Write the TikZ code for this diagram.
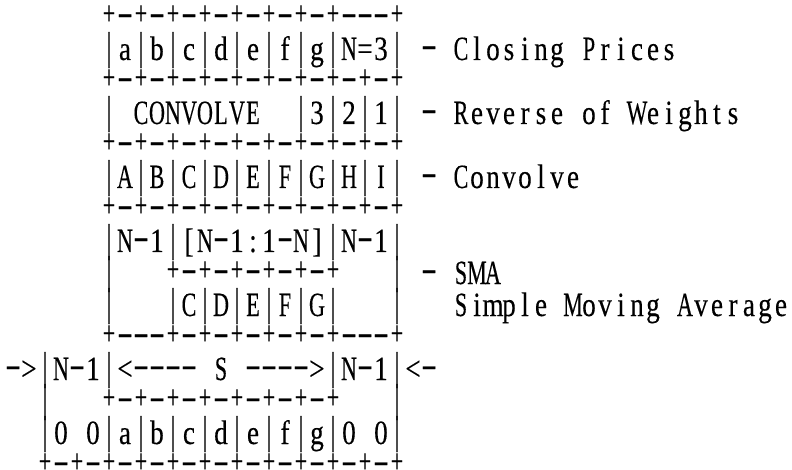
\documentclass[tikz,border=0pt]{standalone}
\usepackage{fontspec}
\newfontfamily\letterfont[FakeStretch=0.8,FakeBold=0.25]{Liberation Serif}
\newfontfamily\capfont[FakeStretch=0.65,FakeBold=0.25]{Liberation Serif}
\newfontfamily\plainfont[FakeBold=0.25]{Liberation Serif}
\makeatletter
\def\cells#1{\cells@#1\relax}
\def\cells@#1{\ifx\relax#1\else\cellbox{#1}\expandafter\cells@\fi}
\makeatother
\newcommand\cellbox[1]{\hbox to 16pt{\hss\cellglyph{#1}\hss}}
\newcommand\dashglyph{\raisebox{\dimexpr13.5pt-\height\relax}{\scalebox{1.4}[1]{\plainfont-}}}
\newcommand\plusglyph{\raisebox{\dimexpr13pt-0.5\height\relax}{{\capfont+}}}
\newcommand\barglyph{\raisebox{\dimexpr28pt-\height\relax}{\resizebox*{\width}{36pt}{|}}}
\newcommand\cellglyph[1]{\ifx-#1\dashglyph\else
  \ifx+#1\plusglyph\else
  \ifx|#1\barglyph\else
  \ifnum`#1>64 \ifnum`#1<91 {\capfont#1}\else#1\fi\else#1\fi\fi\fi\fi}
\newcommand\asciistyle{\letterfont\fontsize{34pt}{34pt}\selectfont}
\tikzset{
  asciirow/.style={anchor=base west, inner sep=0pt, outer sep=0pt, text=black,
    font=\asciistyle}
}
\begin{document}
\begin{tikzpicture}[x=1pt,y=1pt]
\useasboundingbox (0,0) rectangle (792,-470);
\clip (0,0) rectangle (792,-470);
\node[asciirow] (r1)  at (101,-28)  {\cells{+-+-+-+-+-+-+-+---+}};
\node[asciirow] (r2)  at (101,-60)  {\cells{|a|b|c|d|e|f|g|N=3|~-~Closing~Prices}};
\node[asciirow] (r3)  at (101,-92)  {\cells{+-+-+-+-+-+-+-+-+-+}};
\node[asciirow] (r4)  at (101,-124) {\cells{|~CONVOLVE~~|3|2|1|~-~Reverse~of~Weights}};
\node[asciirow] (r5)  at (101,-156) {\cells{+-+-+-+-+-+-+-+-+-+}};
\node[asciirow] (r6)  at (101,-188) {\cells{|A|B|C|D|E|F|G|H|I|~-~Convolve}};
\node[asciirow] (r7)  at (101,-220) {\cells{+-+-+-+-+-+-+-+-+-+}};
\node[asciirow] (r8)  at (101,-252) {\cells{|N-1|[N-1:1-N]|N-1|}};
\node[asciirow] (r9)  at (101,-284) {\cells{|~~~+-+-+-+-+-+~~~|~-~SMA}};
\node[asciirow] (r10) at (101,-316) {\cells{|~~~|C|D|E|F|G|~~~|~~~Simple~Moving~Average}};
\node[asciirow] (r11) at (101,-348) {\cells{+---+-+-+-+-+-+---+}};
\node[asciirow] (r12) at (5,-380)   {\cells{->|N-1|<----~S~---->|N-1|<-}};
\node[asciirow] (r13) at (37,-412)  {\cells{|~~~+-+-+-+-+-+-+-+~~~|}};
\node[asciirow] (r14) at (37,-444)  {\cells{|0~0|a|b|c|d|e|f|g|0~0|}};
\node[asciirow] (r15) at (37,-476)  {\cells{+-+-+-+-+-+-+-+-+-+-+-+}};
\end{tikzpicture}
\end{document}
